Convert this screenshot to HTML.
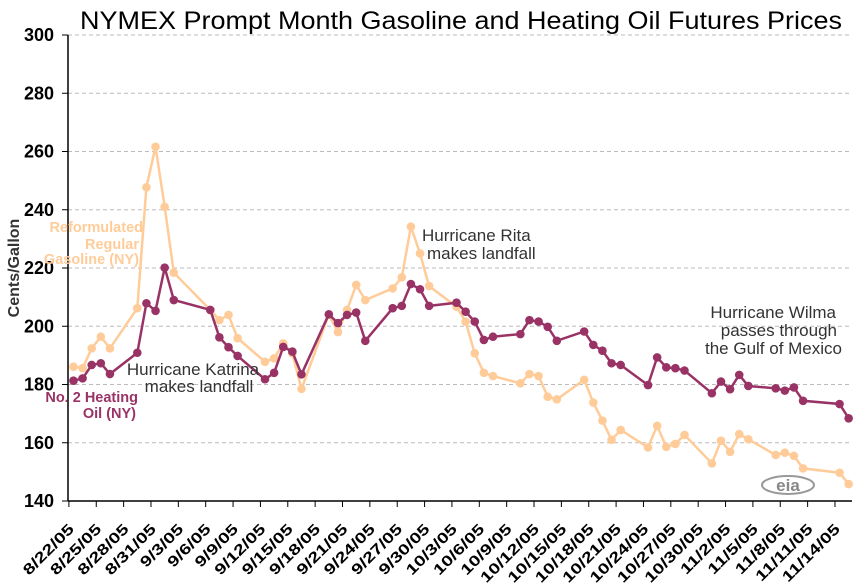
<!DOCTYPE html>
<html><head><meta charset="utf-8"><style>
html,body{margin:0;padding:0;background:#fff;}
svg{display:block;font-family:"Liberation Sans",sans-serif;}
</style></head><body>
<svg id="chart" width="861" height="587" viewBox="0 0 861 587" xmlns="http://www.w3.org/2000/svg">
<rect width="861" height="587" fill="#fff"/>
<text x="80" y="29" textLength="762" lengthAdjust="spacingAndGlyphs" font-size="25" fill="#000">NYMEX Prompt Month Gasoline and Heating Oil Futures Prices</text>
<g id="grid"></g>
<g id="yaxis"></g>
<g id="xaxis"></g>
<text transform="translate(19,268) rotate(-90)" text-anchor="middle" font-size="16" font-weight="bold" fill="#333">Cents/Gallon</text>
<g id="series"></g>
<g font-size="14.5" font-weight="bold" fill="#ffcc99" text-anchor="end">
<text x="143" y="232">Reformulated</text><text x="139" y="249">Regular</text><text x="139" y="264">Gasoline (NY)</text></g>
<g font-size="14.5" font-weight="bold" fill="#993366" text-anchor="end">
<text x="138" y="402">No. 2 Heating</text><text x="136" y="418">Oil (NY)</text></g>
<g font-size="17" fill="#333" text-anchor="middle">
<text x="193" y="375">Hurricane Katrina</text><text x="199" y="392">makes landfall</text></g>
<g font-size="17" fill="#333">
<text x="422" y="241">Hurricane Rita</text><text x="427" y="259">makes landfall</text></g>
<g font-size="17" fill="#333" text-anchor="end">
<text x="836" y="318">Hurricane Wilma</text><text x="837" y="336">passes through</text><text x="842" y="354">the Gulf of Mexico</text></g>
<g>
<ellipse cx="788" cy="485" rx="26" ry="9" fill="none" stroke="#999" stroke-width="2"/>
<text x="788" y="491" text-anchor="middle" font-size="17" font-weight="bold" fill="#888">eia</text></g>
</svg>
<script>
const dates=["8/22/05","8/23/05","8/24/05","8/25/05","8/26/05","8/29/05","8/30/05","8/31/05","9/1/05","9/2/05","9/6/05","9/7/05","9/8/05","9/9/05","9/12/05","9/13/05","9/14/05","9/15/05","9/16/05","9/19/05","9/20/05","9/21/05","9/22/05","9/23/05","9/26/05","9/27/05","9/28/05","9/29/05","9/30/05","10/3/05","10/4/05","10/5/05","10/6/05","10/7/05","10/10/05","10/11/05","10/12/05","10/13/05","10/14/05","10/17/05","10/18/05","10/19/05","10/20/05","10/21/05","10/24/05","10/25/05","10/26/05","10/27/05","10/28/05","10/31/05","11/1/05","11/2/05","11/3/05","11/4/05","11/7/05","11/8/05","11/9/05","11/10/05","11/14/05","11/15/05"];
const gasoline=[186.1,185.6,192.4,196.4,192.4,206.2,247.7,261.6,241.0,218.4,205.6,202.1,203.9,195.9,187.8,189.0,194.1,190.7,178.5,204.0,198.0,205.6,214.2,209.0,213.0,216.8,234.2,225.0,213.8,206.7,201.6,190.7,184.0,182.9,180.4,183.6,182.9,175.8,174.9,181.6,173.8,167.6,161.0,164.4,158.4,165.8,158.6,159.6,162.7,152.9,160.7,156.9,163.0,161.2,155.8,156.6,155.5,151.2,149.7,145.8];
const heatingOil=[181.3,182.1,186.7,187.3,183.6,190.9,207.9,205.3,220.1,209.0,205.6,196.2,192.8,189.8,181.8,184.0,192.9,191.3,183.5,204.1,201.1,203.9,204.7,195.0,206.2,207.0,214.5,212.7,207.0,208.1,205.0,201.6,195.3,196.4,197.3,202.1,201.6,199.8,195.0,198.2,193.6,191.6,187.3,186.7,179.8,189.3,185.9,185.6,184.8,177.0,181.0,178.4,183.3,179.5,178.7,177.9,179.0,174.4,173.3,168.4];
const yTicks=[140,160,180,200,220,240,260,280,300];
const xTickLabels=["8/22/05","8/25/05","8/28/05","8/31/05","9/3/05","9/6/05","9/9/05","9/12/05","9/15/05","9/18/05","9/21/05","9/24/05","9/27/05","9/30/05","10/3/05","10/6/05","10/9/05","10/12/05","10/15/05","10/18/05","10/21/05","10/24/05","10/27/05","10/30/05","11/2/05","11/5/05","11/8/05","11/11/05","11/14/05"];

const NS="http://www.w3.org/2000/svg";
const L=68,R=852,T=35,B=501,YMIN=140,YMAX=300;
const base=Date.UTC(2005,7,22);
function dayIdx(s){const p=s.split("/");return (Date.UTC(2000+ +p[2],+p[0]-1,+p[1])-base)/86400000;}
const PXD=9.12;
function xs(d){return 68.9+PXD*(d+0.5);}
function ys(v){return B-(v-YMIN)/(YMAX-YMIN)*(B-T);}
function mk(tag,attrs,parent){const e=document.createElementNS(NS,tag);for(const k in attrs)e.setAttribute(k,attrs[k]);parent.appendChild(e);return e;}
const grid=document.getElementById('grid'),ya=document.getElementById('yaxis'),xa=document.getElementById('xaxis'),ser=document.getElementById('series');
yTicks.forEach(v=>{
  const y=ys(v);
  if(v>YMIN){const g=mk('line',{x1:L,x2:R,y1:y,y2:y,stroke:'#bbb','stroke-dasharray':'4,3','stroke-width':1},grid);
  
  }
  const t=mk('line',{x1:L-6,x2:L,y1:y,y2:y,stroke:'#000'},ya);
  
  
  const tx=mk('text',{x:54,y:y+6,'text-anchor':'end','font-size':18,'font-weight':'bold',fill:'#000'},ya);
  tx.textContent=v;
  
  
});
mk('line',{x1:L,x2:L,y1:T,y2:B,stroke:'#000','stroke-width':1.5},ya);
mk('line',{x1:L,x2:R,y1:B,y2:B,stroke:'#000','stroke-width':1.5},xa);
xTickLabels.forEach(s=>{
  const x=xs(dayIdx(s))-PXD*0.5;
  const t=mk('line',{x1:x,x2:x,y1:B,y2:B+6,stroke:'#000'},xa);
  
  
  const tx=mk('text',{transform:`translate(${x+6},${B+29}) rotate(-45) scale(1.3,1)`,'text-anchor':'end','font-size':15,'font-weight':'bold',fill:'#000'},xa);
  tx.textContent=s;
  
  
});
function draw(vals,color,name){
  const g=mk('g',{},ser);
  
  
  const pts=vals.map((v,i)=>xs(dayIdx(dates[i])).toFixed(1)+','+ys(v).toFixed(1)).join(' ');
  const pl=mk('polyline',{points:pts,fill:'none',stroke:color,'stroke-width':2.5},g);
  
  
  vals.forEach((v,i)=>{
    const c=mk('circle',{cx:xs(dayIdx(dates[i])),cy:ys(v),r:4.3,fill:color},g);
    
    
  });
}
draw(gasoline,'#ffcc99','gasoline');
draw(heatingOil,'#993366','heating-oil');
</script>
</body></html>
